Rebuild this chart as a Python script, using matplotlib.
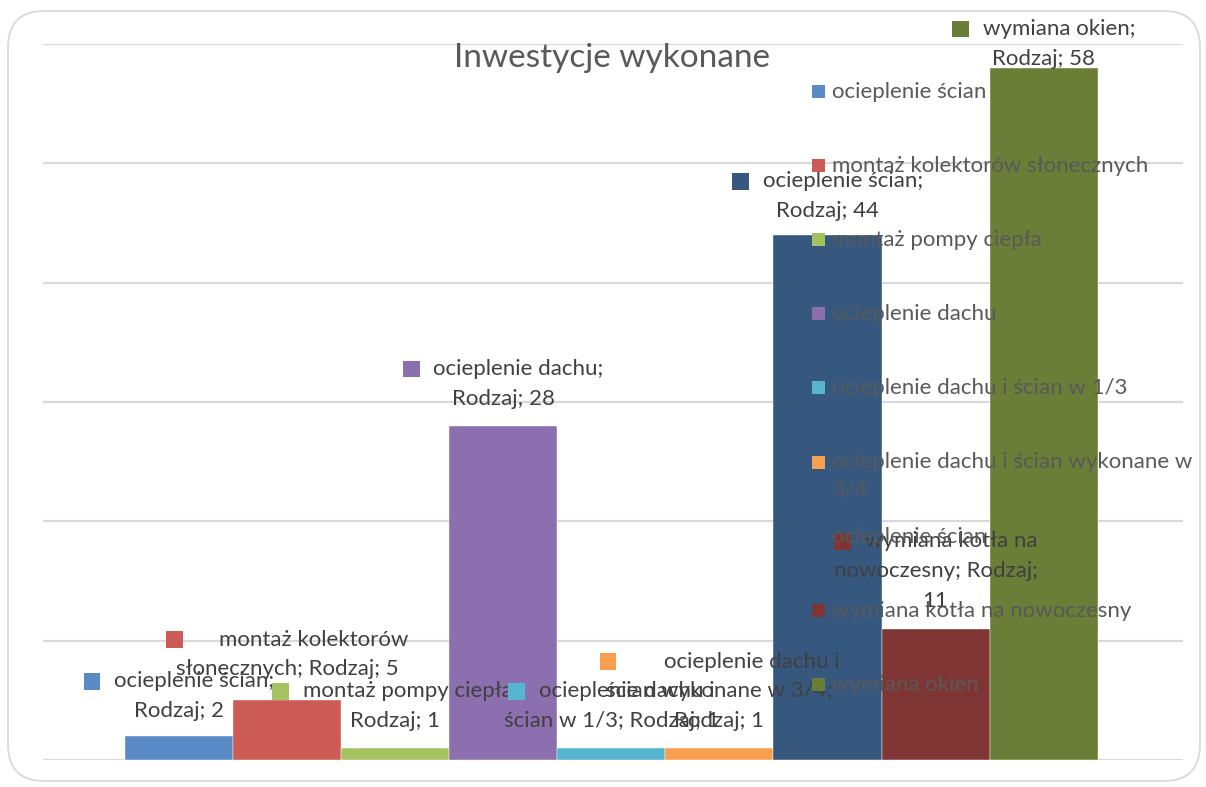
import textwrap
import matplotlib
matplotlib.use("Agg")
import matplotlib.pyplot as plt
from matplotlib.patches import Rectangle, FancyBboxPatch
from matplotlib.offsetbox import TextArea, DrawingArea, HPacker, VPacker, AnnotationBbox

plt.rcParams['font.family'] = ['Lato', 'DejaVu Sans']

# ---- data ----
title = "Inwestycje wykonane"
series_names = ["ocieplenie ścian", "montaż kolektorów słonecznych", "montaż pompy ciepła",
                "ocieplenie dachu", "ocieplenie dachu i ścian w 1/3",
                "ocieplenie dachu i ścian wykonane w 3/4", "ocieplenie ścian",
                "wymiana kotła na nowoczesny", "wymiana okien"]
category = "Rodzaj"
values = [2, 5, 1, 28, 1, 1, 44, 11, 58]
colors = ['#5A8AC6', '#CC5A55', '#A4C260', '#8B6FAE', '#56B5CF', '#F9A050',
          '#36587F', '#7F3533', '#6A7E38']
yticks = [0, 10, 20, 30, 40, 50, 60]

# ---- layout ----
W, H = 1206, 787
wrap_w = [18, 22, 20, 18, 22, 21, 18, 19, 16]
lab_off = [28, 34, 30, 30, 30, 30, 27, 31, 12]   # px, last line centre above bar top
sq_gap = [10, 26, 10, 10, 10, 34, 10, 10, 10]
fs = 16
txt_col = '#404040'
leg_col = '#595959'
grid_col = '#D9D9D9'

fig = plt.figure(figsize=(W/100, H/100), dpi=100)
fig.patch.set_facecolor('white')

# rounded chart border
fig.patches.append(FancyBboxPatch((8/W, 1-781/H), 1192/W, 770/H,
                                  boxstyle="round,pad=0,rounding_size=0.03",
                                  transform=fig.transFigure, fc='none',
                                  ec=grid_col, lw=1.3, mutation_aspect=W/H))

ax = fig.add_axes([43/W, 27/H, 1140/W, 716/H])
ax.set_ylim(0, 60)
ax.set_xlim(-0.76, 9.79)
for t in yticks:
    ax.axhline(t, color=grid_col, lw=1.6, zorder=0)
for s in ax.spines.values():
    s.set_visible(False)
ax.set_xticks([])
ax.set_yticks([])

xs = list(range(len(values)))
ax.bar(xs, values, width=1, align='edge', color=colors, zorder=2,
       edgecolor='white', linewidth=0.3)

# data labels
for i, v in enumerate(values):
    full = f"{series_names[i]}; {category}; {v}"
    lines = textwrap.wrap(full, wrap_w[i])
    da = DrawingArea(12, 12, 0, 0)
    da.add_artist(Rectangle((0, 0), 12, 12, fc=colors[i], ec='none'))
    first = HPacker(children=[da, TextArea(lines[0], textprops=dict(color=txt_col, fontsize=fs))],
                    align='center', pad=0, sep=sq_gap[i])
    rows = [first] + [TextArea(l, textprops=dict(color=txt_col, fontsize=fs)) for l in lines[1:]]
    box = VPacker(children=rows, align='center', pad=0, sep=7)
    ab = AnnotationBbox(box, (i + 0.5, v), xybox=(0, (lab_off[i] - 13) * 0.72),
                        xycoords='data', boxcoords='offset points',
                        box_alignment=(0.5, 0), frameon=False, annotation_clip=False,
                        zorder=5)
    ax.add_artist(ab)

# title
fig.text(612/W, 1-58/H, title, ha='center', va='center', fontsize=24, color=leg_col)

# legend (right side, drawn over the bars)
leg_top = 91
leg_step = 74.1
for i, name in enumerate(series_names):
    yc = leg_top + i * leg_step
    fig.patches.append(Rectangle((812/W, 1-(yc+7)/H), 13/W, 13/H, transform=fig.transFigure,
                                 fc=colors[i], ec='none', zorder=6))
    lab = name
    if len(name) > 36:
        lab = textwrap.fill(name, 35)
    fig.text(832/W, 1-(yc-9)/H, lab, ha='left', va='top', fontsize=fs, color=leg_col,
             linespacing=1.45, zorder=6)

fig.savefig("out.png", dpi=100)
